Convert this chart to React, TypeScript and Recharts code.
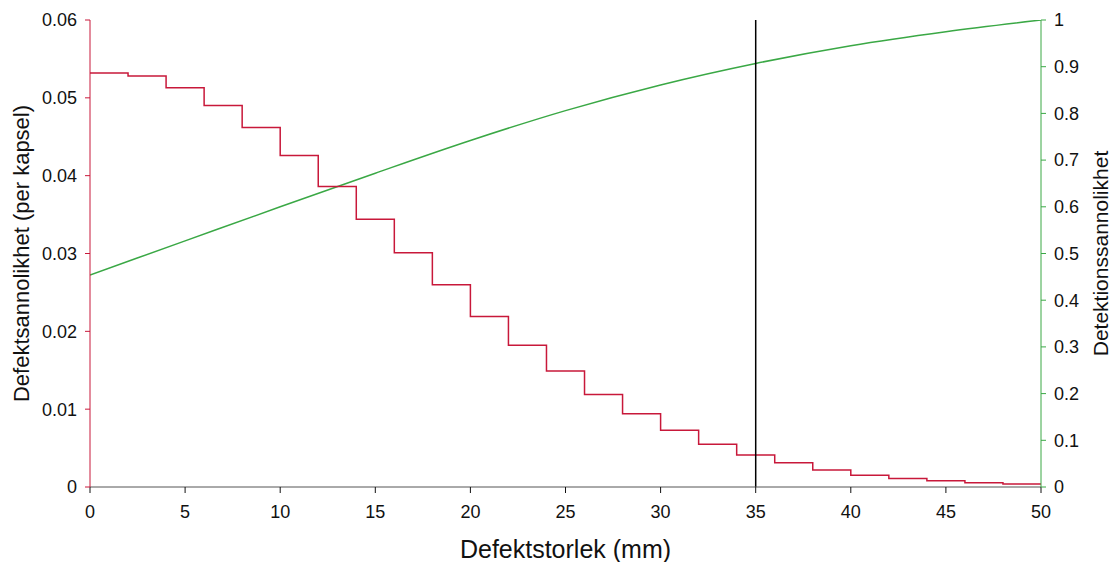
import React from 'react';
import { ComposedChart, Line, XAxis, YAxis, ReferenceLine } from 'recharts';

const stepStarts = [0, 2, 4, 6, 8, 10, 12, 14, 16, 18, 20, 22, 24, 26, 28, 30, 32, 34, 36, 38, 40, 42, 44, 46, 48, 50];
const defectProb = [0.0532, 0.0528, 0.0513, 0.049, 0.0462, 0.0426, 0.0386, 0.0344, 0.0301, 0.026, 0.0219, 0.0182, 0.0149, 0.0119, 0.0094, 0.0073, 0.0055, 0.0041, 0.0031, 0.0022, 0.0015, 0.0011, 0.0008, 0.00055, 0.0004, 0.0004];

const detX = [0, 5, 10, 15, 20, 25, 30, 35, 40, 45, 50];
const detProb = [0.454, 0.527, 0.6, 0.672, 0.742, 0.806, 0.861, 0.907, 0.945, 0.975, 1.0];

const xTicks = [0, 5, 10, 15, 20, 25, 30, 35, 40, 45, 50];
const leftTicks = [0, 0.01, 0.02, 0.03, 0.04, 0.05, 0.06];
const rightTicks = [0, 0.1, 0.2, 0.3, 0.4, 0.5, 0.6, 0.7, 0.8, 0.9, 1];
const markerX = 35;

const xLabel = 'Defektstorlek (mm)';
const leftLabel = 'Defektsannolikhet (per kapsel)';
const rightLabel = 'Detektionssannolikhet';

const stepData = stepStarts.map((x, i) => ({ x, p: defectProb[i] }));
const detData = detX.map((x, i) => ({ x, d: detProb[i] }));

const RED = '#c8183a';
const GREEN = '#3aa845';
const FONT = '"Liberation Sans", Arial, sans-serif';

const LeftLabel = (props: any) => {
  const vb = props.viewBox;
  const cx = vb.x - 9;
  const cy = vb.y + vb.height / 2;
  return (
    <text x={cx} y={cy} transform={`rotate(-90, ${cx}, ${cy})`} textAnchor="middle" dominantBaseline="central" fontSize={22} fill="#111" fontFamily={FONT}>
      {leftLabel}
    </text>
  );
};

const RightLabel = (props: any) => {
  const vb = props.viewBox;
  const cx = vb.x + vb.width + 19;
  const cy = vb.y + vb.height / 2;
  return (
    <text x={cx} y={cy} transform={`rotate(-90, ${cx}, ${cy})`} textAnchor="middle" dominantBaseline="central" fontSize={21} fill="#111" fontFamily={FONT}>
      {rightLabel}
    </text>
  );
};

const BottomLabel = (props: any) => {
  const vb = props.viewBox;
  const cx = vb.x + vb.width / 2;
  const cy = vb.y + vb.height + 32;
  return (
    <text x={cx} y={cy} textAnchor="middle" dominantBaseline="central" fontSize={25} fill="#111" fontFamily={FONT}>
      {xLabel}
    </text>
  );
};

export default function App() {
  return (
    <div style={{ position: 'absolute', left: 0, top: 0, width: 1110, height: 562, background: '#fff', fontFamily: FONT }}>
      <ComposedChart width={1110} height={562} margin={{ top: 20, right: 29, bottom: 45, left: 30 }}>
        <XAxis
          dataKey="x"
          type="number"
          domain={[0, 50]}
          ticks={xTicks}
          allowDataOverflow
          stroke="#555"
          tickLine={{ stroke: '#111' }}
          tickSize={6}
          tickMargin={12}
          tick={{ fill: '#111', fontSize: 18, fontFamily: FONT }}
          height={30}
          label={<BottomLabel />}
        />
        <YAxis
          yAxisId="left"
          orientation="left"
          domain={[0, 0.06]}
          ticks={leftTicks}
          allowDataOverflow
          stroke={RED}
          tickLine={{ stroke: RED }}
          tickSize={5}
          tickMargin={8}
          tick={{ fill: '#111', fontSize: 18, fontFamily: FONT }}
          tickFormatter={(v: number) => (v === 0 ? '0' : String(Number(v.toFixed(2))))}
          width={60}
          label={<LeftLabel />}
        />
        <YAxis
          yAxisId="right"
          orientation="right"
          domain={[0, 1]}
          ticks={rightTicks}
          allowDataOverflow
          stroke={GREEN}
          tickLine={{ stroke: GREEN }}
          tickSize={5}
          tickMargin={8}
          tick={{ fill: '#111', fontSize: 18, fontFamily: FONT }}
          tickFormatter={(v: number) => String(Number(v.toFixed(1)))}
          width={40}
          label={<RightLabel />}
        />
        <Line
          yAxisId="right"
          data={detData}
          dataKey="d"
          type="monotone"
          stroke={GREEN}
          strokeWidth={1.5}
          dot={false}
          isAnimationActive={false}
        />
        <Line
          yAxisId="left"
          data={stepData}
          dataKey="p"
          type="stepAfter"
          stroke={RED}
          strokeWidth={1.5}
          dot={false}
          isAnimationActive={false}
        />
        <ReferenceLine yAxisId="left" x={markerX} stroke="#000" strokeWidth={1.5} />
      </ComposedChart>
    </div>
  );
}
